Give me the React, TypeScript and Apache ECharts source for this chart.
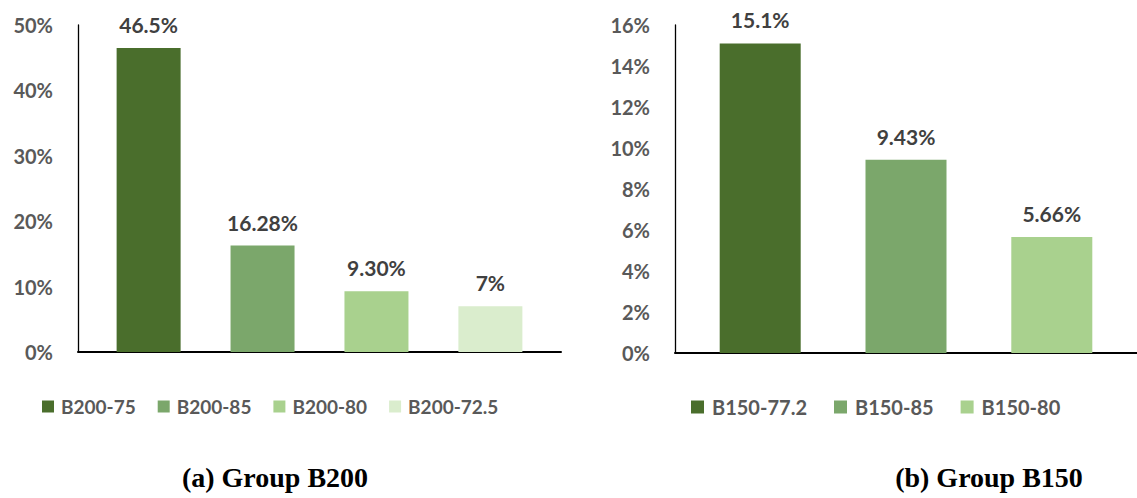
import React, { useEffect, useRef } from "react";
import * as echarts from "echarts";

const namesA = ["B200-75", "B200-85", "B200-80", "B200-72.5"];
const valuesA = [46.5, 16.28, 9.3, 7];
const labelsA = ["46.5%", "16.28%", "9.30%", "7%"];
const colorsA = ["#4a6e2c", "#7ba76b", "#a9d18e", "#daedcd"];

const namesB = ["B150-77.2", "B150-85", "B150-80"];
const valuesB = [15.1, 9.43, 5.66];
const labelsB = ["15.1%", "9.43%", "5.66%"];
const colorsB = ["#4a6e2c", "#7ba76b", "#a9d18e"];

const titleA = "(a) Group B200";
const titleB = "(b) Group B150";

const FONT = "Lato, 'Open Sans', sans-serif";

export default function App() {
  const ref = useRef<HTMLDivElement>(null);
  useEffect(() => {
    if (!ref.current) return;
    const chart = echarts.init(ref.current, null, { renderer: "svg" });
    const yAxisCommon = {
      type: "value",
      min: 0,
      splitLine: { show: false },
      axisTick: { show: false },
      axisLine: { show: true, lineStyle: { color: "#000", width: 1.3 } },
      axisLabel: {
        formatter: "{value}%",
        color: "#595959",
        fontFamily: FONT,
        fontWeight: "bold",
        fontSize: 20,
        margin: 25,
      },
    };
    const xAxisCommon = {
      type: "category",
      data: [""],
      axisTick: { show: false },
      axisLabel: { show: false },
      axisLine: { show: true, lineStyle: { color: "#000", width: 2 } },
    };
    const labelCommon = {
      show: true,
      position: "top",
      distance: 13,
      color: "#404040",
      fontFamily: FONT,
      fontWeight: "bold",
      fontSize: 21,
    };
    const seriesA = namesA.map((n, i) => ({
      name: n,
      type: "bar",
      xAxisIndex: 0,
      yAxisIndex: 0,
      data: [valuesA[i]],
      barWidth: 64,
      barGap: "78%",
      itemStyle: { color: colorsA[i] },
      label: { ...labelCommon, formatter: () => labelsA[i] },
    }));
    const seriesB = namesB.map((n, i) => ({
      name: n,
      type: "bar",
      xAxisIndex: 1,
      yAxisIndex: 1,
      data: [valuesB[i]],
      barWidth: 81,
      barGap: "80%",
      itemStyle: { color: colorsB[i] },
      label: { ...labelCommon, formatter: () => labelsB[i] },
    }));
    chart.setOption({
      animation: false,
      grid: [
        { left: 78, right: 576, top: 25, bottom: 146, containLabel: false },
        { left: 675, right: -8, top: 25, bottom: 145, containLabel: false },
      ],
      xAxis: [
        { ...xAxisCommon, gridIndex: 0 },
        { ...xAxisCommon, gridIndex: 1 },
      ],
      yAxis: [
        { ...yAxisCommon, gridIndex: 0, max: 50, interval: 10 },
        { ...yAxisCommon, gridIndex: 1, max: 16, interval: 2 },
      ],
      legend: [
        {
          data: namesA,
          left: 42,
          top: 397,
          padding: 0,
          itemWidth: 12,
          itemHeight: 12,
          itemGap: 22,
          icon: "rect",
          textStyle: {
            color: "#595959",
            fontFamily: FONT,
            fontWeight: "bold",
            fontSize: 19,
            padding: [0, 0, 0, 2],
          },
        },
        {
          data: namesB,
          left: 691,
          top: 397,
          padding: 0,
          itemWidth: 13,
          itemHeight: 13,
          itemGap: 27,
          icon: "rect",
          textStyle: {
            color: "#595959",
            fontFamily: FONT,
            fontWeight: "bold",
            fontSize: 20,
            padding: [0, 0, 0, 3],
          },
        },
      ],
      graphic: [
        {
          type: "text",
          x: 275,
          y: 477,
          style: {
            text: titleA,
            fontFamily: "'Liberation Serif', 'Times New Roman', serif",
            fontWeight: "bold",
            fontSize: 28,
            fill: "#000",
            align: "center",
            verticalAlign: "middle",
          },
        },
        {
          type: "text",
          x: 989,
          y: 477,
          style: {
            text: titleB,
            fontFamily: "'Liberation Serif', 'Times New Roman', serif",
            fontWeight: "bold",
            fontSize: 28,
            fill: "#000",
            align: "center",
            verticalAlign: "middle",
          },
        },
      ],
      series: [...seriesA, ...seriesB],
    });
    return () => chart.dispose();
  }, []);
  return (
    <div
      ref={ref}
      style={{ position: "fixed", left: 0, top: 0, width: 1137, height: 498, background: "#fff" }}
    />
  );
}
